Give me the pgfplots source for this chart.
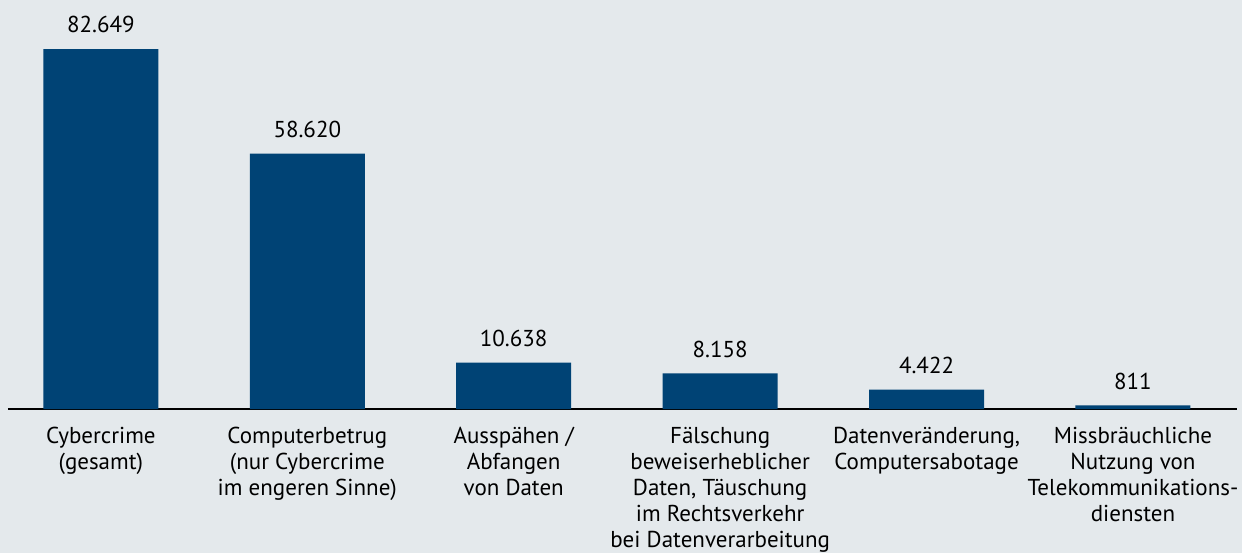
\documentclass[border=0pt]{standalone}
\usepackage{pgfplots}
\pgfplotsset{compat=1.18}
\usepackage{fontspec}
\setmainfont{PT Sans}
\definecolor{bgc}{RGB}{228,233,236}
\definecolor{barc}{RGB}{0,67,117}
\begin{document}
\begin{tikzpicture}
\fill[bgc] (0,-72pt) rectangle (621pt,204.5pt);
\begin{axis}[
  at={(4pt,0pt)}, anchor=south west,
  scale only axis, width=614.5pt, height=204.5pt,
  xmin=-0.45, xmax=5.504, ymin=0, ymax=93899,
  axis x line=bottom, axis y line=none,
  x axis line style={-, line width=1pt, black},
  xtick=data, major tick length=0pt,
  xticklabels={{Cybercrime\\(gesamt)},{Computerbetrug\\(nur Cybercrime\\im engeren Sinne)},{Ausspähen /\\Abfangen\\von Daten},{Fälschung\\beweiserheblicher\\Daten, Täuschung\\im Rechtsverkehr\\bei Datenverarbeitung},{Datenveränderung,\\Computersabotage},{Missbräuchliche\\Nutzung von\\Telekommunikations-\\diensten}},
  xticklabel style={align=center, font=\fontsize{11.5}{13}\selectfont, yshift=-5.5pt},
  ytick=\empty,
  clip=false,
  /pgf/number format/assume math mode=true,
  /pgf/number format/.cd, fixed, precision=0, 1000 sep={.},
]
\addplot[ybar, bar width=0.557, fill=barc, draw=none,
  nodes near coords,
  every node near coord/.append style={anchor=south, font=\fontsize{11.5}{13}\selectfont, yshift=4.5pt, black}]
  coordinates {(0,82649) (1,58620) (2,10638) (3,8158) (4,4422) (5,811)};
\end{axis}
\pgfresetboundingbox
\useasboundingbox (0,-72pt) rectangle (621pt,204.5pt);
\end{tikzpicture}
\end{document}
